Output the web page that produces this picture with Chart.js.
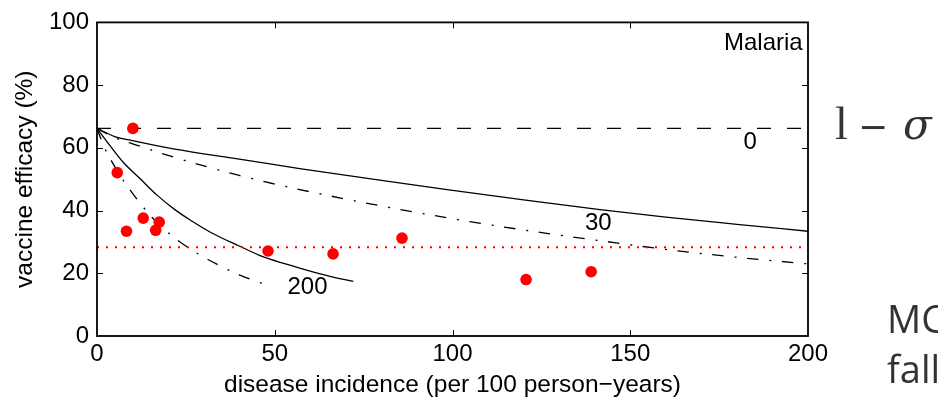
<!DOCTYPE html>
<html>
<head>
<meta charset="utf-8">
<script src="https://cdn.jsdelivr.net/npm/chart.js@4.4.1/dist/chart.umd.min.js"></script>
<style>
  html, body { margin: 0; padding: 0; background: #fff; }
  canvas { display: block; }
</style>
</head>
<body>
<canvas id="c" width="938" height="400"></canvas>
<script>
// Malaria: vaccine efficacy vs disease incidence
// ============================================

// trial sites (red dots)
var siteIncidence = [10.1, 5.7, 8.3, 13.0, 16.5, 17.5, 48.1, 66.4, 85.8, 120.7, 139.0];
var siteEfficacy  = [66.2, 52.1, 33.4, 37.6, 33.7, 36.3, 27.1, 26.2, 31.2, 18.0, 20.5];

// mean of the sites (red dotted line)
var meanEfficacy = 28.3;

// model curves, labelled by heterogeneity
var flatX = [0, 200];
var flatY = [66.2, 66.2];

var solid30X = [0, 5, 10, 20, 30, 40, 57, 80, 99, 120, 141.5, 160, 180, 200];
var solid30Y = [66.2, 63.6, 62.3, 60.0, 58.1, 56.4, 53.4, 49.6, 46.6, 43.4, 40.3, 37.9, 35.6, 33.4];

var dash30X = [0, 5, 10, 20, 40, 57, 85, 100, 120, 141.5, 160, 180, 200];
var dash30Y = [66.2, 63.2, 61.3, 57.6, 51.2, 46.7, 40.4, 37.4, 33.8, 30.4, 27.6, 25.1, 23.0];

var solid200X = [0, 3.6, 7.3, 12.1, 16.8, 21.9, 26.2, 32.7, 40, 46.8, 53, 59, 65, 72.1];
var solid200Y = [66.2, 60.8, 55.5, 50.2, 45.0, 40.3, 37.0, 32.6, 28.7, 25.2, 23.0, 21.0, 19.2, 17.4];

var dash200X = [0, 2, 5, 8, 10, 12.1, 15, 19, 22.4, 28, 33.7, 40, 48.2];
var dash200Y = [66.2, 60.3, 54.0, 48.6, 45.5, 42.4, 38.4, 34.0, 30.8, 26.5, 22.9, 19.5, 16.1];

var xTicks = [0, 50, 100, 150, 200];
var yTicks = [0, 20, 40, 60, 80, 100];

function pts(xs, ys) {
    return xs.map(function (x, i) { return { x: x, y: ys[i] }; });
}

var FONT = "'Liberation Sans', Arial, sans-serif";
var SERIF = "'Liberation Serif', 'Times New Roman', serif";

function curve(xs, ys, dash) {
    return {
        data: pts(xs, ys)
        , showLine: true
        , borderColor: '#000'
        , borderWidth: 1.3
        , borderDash: dash
        , pointRadius: 0
        , cubicInterpolationMode: 'monotone'
        , fill: false
    };
}

// box, inward ticks and free text
var decor = {
    id: 'decor'
    , afterDraw: function (chart) {
        var ctx = chart.ctx, a = chart.chartArea;
        var sx = chart.scales.x, sy = chart.scales.y;
        ctx.save();
        ctx.strokeStyle = '#000';
        ctx.lineWidth = 1.8;
        ctx.strokeRect(a.left, a.top, a.right - a.left, a.bottom - a.top);

        ctx.lineWidth = 1;
        ctx.beginPath();
        xTicks.slice(1, -1).forEach(function (v) {
            var px = Math.round(sx.getPixelForValue(v)) + 0.5;
            ctx.moveTo(px, a.bottom); ctx.lineTo(px, a.bottom - 6);
            ctx.moveTo(px, a.top); ctx.lineTo(px, a.top + 6);
        });
        yTicks.slice(1, -1).forEach(function (v) {
            var py = Math.round(sy.getPixelForValue(v)) + 0.5;
            ctx.moveTo(a.left, py); ctx.lineTo(a.left + 6, py);
            ctx.moveTo(a.right, py); ctx.lineTo(a.right - 6, py);
        });
        ctx.stroke();

        ctx.fillStyle = '#000';
        ctx.textBaseline = 'middle';
        ctx.font = '24px ' + FONT;
        ctx.textAlign = 'center';
        ctx.fillText('0', sx.getPixelForValue(183.7), sy.getPixelForValue(61.6));
        ctx.fillText('30', sx.getPixelForValue(141), sy.getPixelForValue(35.8));
        ctx.fillText('200', sx.getPixelForValue(59.2), sy.getPixelForValue(15.6));
        ctx.textAlign = 'right';
        ctx.fillText('Malaria', sx.getPixelForValue(198.5), sy.getPixelForValue(93.4));

        // slide text on the right
        ctx.fillStyle = '#333';
        ctx.textAlign = 'left';
        ctx.textBaseline = 'alphabetic';
        ctx.font = '46px ' + SERIF;
        ctx.fillText('l', 835, 139);
        ctx.font = '36px "DejaVu Sans", ' + FONT;
        ctx.fillText('\u2212', 858, 139);
        ctx.font = 'italic 42px "DejaVu Serif", serif';
        ctx.fillText('\u03c3', 903, 139);
        ctx.font = '38px "Open Sans", ' + FONT;
        ctx.fillText('MC', 887, 333);
        ctx.fillText('fall', 887, 383);
        ctx.restore();
    }
};

new Chart(document.getElementById('c'), {
    type: 'scatter'
    , data: {
        datasets: [
            {
                data: pts(siteIncidence, siteEfficacy)
                , pointRadius: 5.8
                , pointBackgroundColor: '#ff0000'
                , pointBorderWidth: 0
                , showLine: false
            }
            , {
                data: pts(flatX, [meanEfficacy, meanEfficacy])
                , showLine: true
                , borderColor: '#ff0000'
                , borderWidth: 2
                , borderDash: [2, 7]
                , pointRadius: 0
            }
            , curve(flatX, flatY, [14, 16])
            , curve(solid30X, solid30Y, [])
            , curve(dash30X, dash30Y, [11.5, 11, 2, 10.5])
            , curve(solid200X, solid200Y, [])
            , curve(dash200X, dash200Y, [11.5, 11, 2, 10.5])
        ]
    }
    , options: {
        responsive: false
        , animation: false
        , layout: { padding: { top: 19, right: 130, left: 0, bottom: 0 } }
        , plugins: { legend: { display: false }, tooltip: { enabled: false } }
        , scales: {
            x: {
                type: 'linear'
                , min: 0
                , max: 200
                , afterFit: function (s) { s.height = 64; }
                , afterBuildTicks: function (s) { s.ticks = xTicks.map(function (v) { return { value: v }; }); }
                , ticks: { font: { size: 24, family: FONT }, color: '#000', padding: 4 }
                , grid: { drawOnChartArea: false, drawTicks: false }
                , border: { display: false }
                , title: {
                    display: true
                    , text: 'disease incidence (per 100 person\u2212years)'
                    , font: { size: 24.5, family: FONT }
                    , color: '#000'
                    , padding: { top: 0, bottom: 0 }
                }
            }
            , y: {
                type: 'linear'
                , min: 0
                , max: 100
                , afterFit: function (s) { s.width = 97; }
                , afterBuildTicks: function (s) { s.ticks = yTicks.map(function (v) { return { value: v }; }); }
                , ticks: { font: { size: 24, family: FONT }, color: '#000', padding: 8 }
                , grid: { drawOnChartArea: false, drawTicks: false }
                , border: { display: false }
                , title: {
                    display: true
                    , text: 'vaccine efficacy (%)'
                    , font: { size: 24.5, family: FONT }
                    , color: '#000'
                    , padding: { top: 11, bottom: 0 }
                }
            }
        }
    }
    , plugins: [decor]
});
</script>
</body>
</html>
